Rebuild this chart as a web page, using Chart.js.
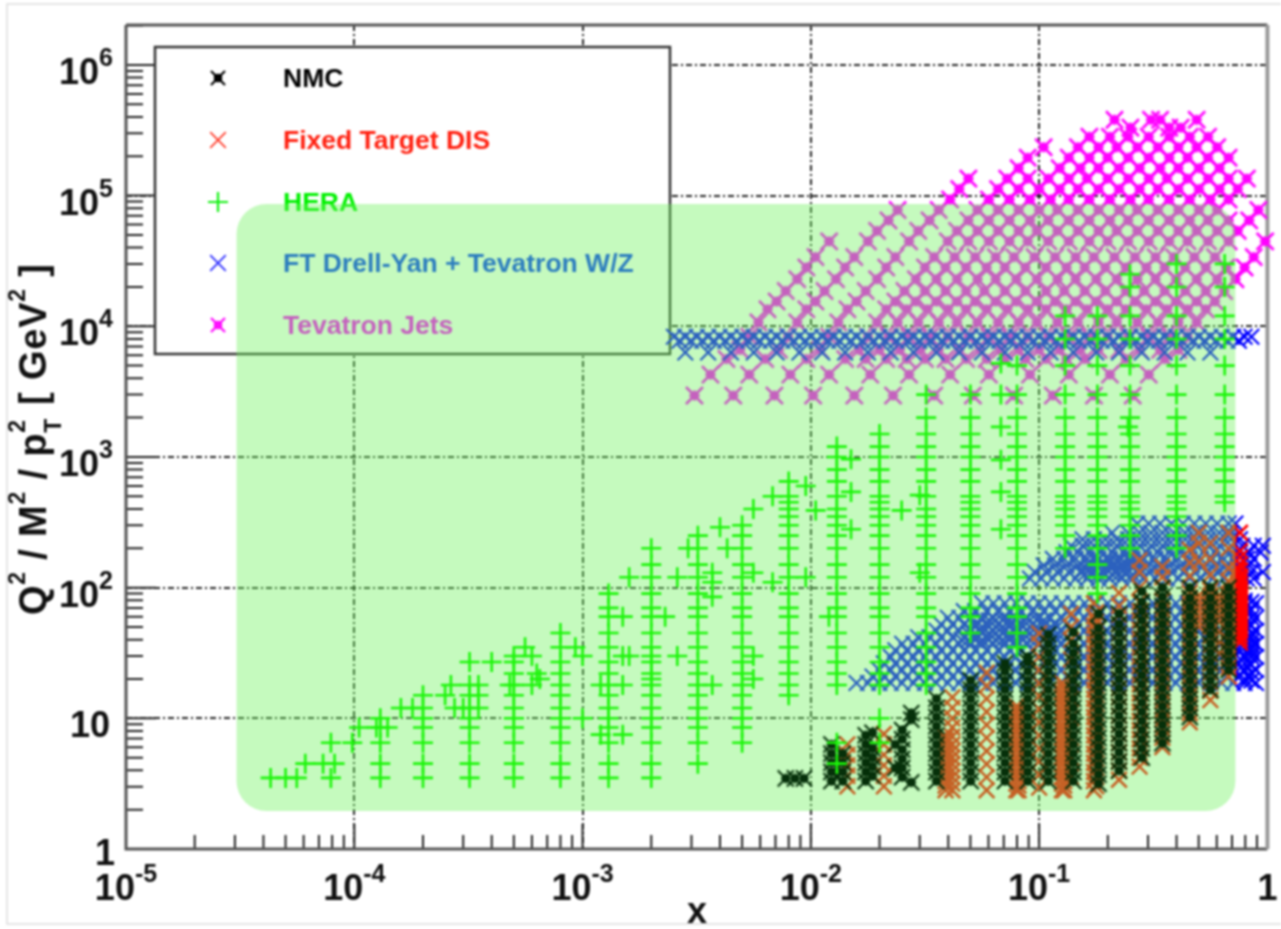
<!DOCTYPE html>
<html lang="en">
<head>
  <meta charset="UTF-8">
  <title>Kinematic coverage of NNPDF input data</title>
  <script src="https://cdn.jsdelivr.net/npm/chart.js"></script>
  <style>
    html, body { margin: 0; padding: 0; background: #fff; }
    canvas { display: block; filter: blur(1px); }
  </style>
</head>
<body>
<canvas id="chart" width="1281" height="929"></canvas>

<script>
// axis ticks
const xTickValues = [1e-5, 1e-4, 1e-3, 1e-2, 1e-1, 1];
const xTickBases = ['10', '10', '10', '10', '10', '1'];
const xTickExps = ['-5', '-4', '-3', '-2', '-1', ''];
const yTickValues = [1, 10, 100, 1e3, 1e4, 1e5, 1e6];
const yTickBases = ['1', '10', '10', '10', '10', '10', '10'];
const yTickExps = ['', '', '2', '3', '4', '5', '6'];
const minorFactors = [2, 3, 4, 5, 6, 7, 8, 9];

const seriesLabels = ['NMC', 'Fixed Target DIS', 'HERA', 'FT Drell-Yan + Tevatron W/Z', 'Tevatron Jets'];

// HERA: [x, [Q2 ...]]
const heraColumns = [
  [4.3e-5, [3.5]], [5e-5, [3.5]], [5.6e-5, [3.5]], [6.1e-5, [4.5]], [7.3e-5, [4.5]],
  [7.9e-5, [3.5, 6.5]], [8.2e-5, [4.5]], [9.8e-5, [6.5]], [1.05e-4, [8.5]], [1.25e-4, [8.5]],
  [1.3e-4, [3.5, 4.5, 6.5, 8.5, 10]], [1.4e-4, [8.5]], [1.6e-4, [12]], [1.8e-4, [12]],
  [2e-4, [3.5, 4.5, 6.5, 8.5, 10, 12, 15]], [2.5e-4, [15]], [2.65e-4, [18]], [2.75e-4, [12]], [3e-4, [12]],
  [3.2e-4, [3.5, 4.5, 6.5, 8.5, 10, 12, 15, 18, 27]], [3.5e-4, [12, 15, 18]], [4e-4, [27]],
  [4.8e-4, [18]], [5e-4, [3.5, 4.5, 6.5, 8.5, 10, 12, 15, 18, 22, 27, 30]],
  [5.6e-4, [35]], [6e-4, [18, 30]], [6.3e-4, [22]], [6.5e-4, [20]],
  [8e-4, [3.5, 4.5, 6.5, 8.5, 10, 12, 15, 18, 22, 27, 35, 45]], [9.3e-4, [35]], [1e-3, [10, 30]],
  [1.2e-3, [7.5, 18]], [1.3e-3, [3.5, 4.5, 6.5, 8.5, 10, 12, 15, 18, 22, 27, 35, 45, 60, 70, 90]],
  [1.5e-3, [7.5, 18, 30, 60]], [1.6e-3, [30, 120]],
  [2e-3, [3.5, 4.5, 6.5, 8.5, 10, 12, 15, 18, 20, 22, 27, 30, 35, 45, 60, 70, 90, 120, 150, 200]],
  [2.3e-3, [60]], [2.6e-3, [30, 120]], [2.9e-3, [200]],
  [3.2e-3, [4.5, 6.5, 8.5, 10, 12, 15, 18, 22, 27, 35, 45, 60, 70, 90, 120, 150, 200, 250]],
  [3.7e-3, [18, 85, 110, 130]], [4e-3, [290]], [4.3e-3, [200]],
  [5e-3, [6.5, 8.5, 10, 12, 15, 18, 22, 27, 35, 45, 60, 70, 90, 120, 150, 200, 250, 300]],
  [5.6e-3, [20, 30, 130, 400]], [6.8e-3, [110, 500]],
  [8e-3, [15, 18, 22, 27, 35, 45, 60, 70, 90, 120, 150, 200, 250, 300, 350, 400, 450, 500, 650]],
  [9.5e-3, [120, 600]], [1.05e-2, [390]], [1.2e-2, [60]],
  [1.3e-2, [4.5, 6.5, 18, 22, 27, 35, 45, 60, 70, 90, 120, 150, 200, 250, 300, 350, 400, 500, 650, 800, 1000, 1200]],
  [1.5e-2, [280, 540, 960]],
  [2e-2, [6.5, 10, 18, 22, 27, 35, 45, 60, 70, 90, 120, 150, 200, 250, 300, 350, 400, 450, 500, 650, 800, 1000, 1200, 1500]],
  [2.5e-2, [390]], [3e-2, [130, 510]],
  [3.2e-2, [18, 22, 27, 35, 45, 60, 70, 90, 120, 150, 200, 250, 300, 350, 400, 500, 650, 800, 1000, 1200, 1500, 2000, 3000]],
  [5e-2, [45, 60, 70, 90, 120, 150, 200, 250, 300, 350, 400, 450, 500, 650, 800, 1000, 1200, 1500, 2000, 3000]],
  [6.8e-2, [280, 540, 950, 1700, 3000, 5200]],
  [8e-2, [35, 45, 60, 70, 90, 120, 150, 200, 250, 300, 350, 400, 450, 500, 650, 800, 1000, 1200, 1500, 2000, 3000, 5000]],
  [0.13, [200, 250, 300, 350, 400, 450, 500, 650, 800, 1000, 1200, 1500, 2000, 3000, 5000, 8000, 12000]],
  [0.18, [90, 120, 150, 200, 250, 300, 350, 400, 450, 500, 650, 800, 1000, 1200, 1500, 2000, 3000, 5000, 8000, 12000]],
  [0.245, [1700]],
  [0.25, [200, 250, 300, 350, 400, 450, 500, 650, 800, 1000, 1200, 1500, 2000, 3000, 5000, 8000, 12000, 20000, 25000]],
  [0.4, [200, 250, 300, 350, 400, 450, 500, 650, 800, 1000, 1200, 1500, 2000, 3000, 5000, 8000, 12000, 20000, 30000]],
  [0.65, [450, 500, 650, 800, 1000, 1200, 1500, 2000, 3000, 5000, 8000, 12000, 20000, 30000]]
];

// NMC: [log10 x, [log10 Q2 ...]]
const nmcColumns = [
  [-2.11, [.54]], [-2.07, [.54]], [-2.03, [.54]],
  [-1.91, [.52, .59, .66, .73, .80]], [-1.86, [.52, .59, .66, .73]],
  [-1.76, [.52, .59, .66, .73, .80, .87]], [-1.73, [.56, .63, .70, .77, .89]],
  [-1.60, [.55, .62, .69, .76, .84, .91]], [-1.56, [.51, .99, 1.04]], [-1.63, [.62, .80]],
  [-1.45, [.52, .59, .66, .73, .80, .87, .94, 1.01, 1.08, 1.15]],
  [-1.30, [.52, .59, .66, .73, .80, .87, .94, 1.01, 1.08, 1.15, 1.22, 1.29]],
  [-1.15, [.52, .59, .66, .73, .80, .87, .94, 1.01, 1.08, 1.15, 1.22, 1.29, 1.36, 1.42]],
  [-1.05, [.52, .59, .66, .73, .80, .87, .94, 1.01, 1.08, 1.15, 1.22, 1.29, 1.36, 1.43, 1.47]],
  [-.96, [.52, .59, .66, .73, .80, .87, .94, 1.01, 1.08, 1.15, 1.22, 1.29, 1.36, 1.43, 1.50, 1.57, 1.64]],
  [-.85, [.52, .59, .66, .73, .80, .87, .94, 1.01, 1.08, 1.15, 1.22, 1.29, 1.36, 1.43, 1.50, 1.57, 1.66]],
  [-.74, [.50, .57, .64, .71, .78, .85, .92, .99, 1.06, 1.13, 1.20, 1.27, 1.34, 1.41, 1.48, 1.55, 1.62, 1.69, 1.80]],
  [-.65, [.60, .67, .74, .81, .88, .95, 1.02, 1.09, 1.16, 1.23, 1.30, 1.37, 1.44, 1.51, 1.58, 1.65, 1.72, 1.80]],
  [-.55, [.70, .77, .84, .91, .98, 1.05, 1.12, 1.19, 1.26, 1.33, 1.40, 1.47, 1.54, 1.61, 1.68, 1.75, 1.82, 1.89, 1.97]],
  [-.46, [.81, .88, .95, 1.02, 1.09, 1.16, 1.23, 1.30, 1.37, 1.44, 1.51, 1.58, 1.65, 1.72, 1.79, 1.86, 1.93, 2.0]],
  [-.34, [1.01, 1.08, 1.15, 1.22, 1.29, 1.36, 1.43, 1.50, 1.57, 1.64, 1.71, 1.78, 1.85, 1.92, 2.0]],
  [-.25, [1.22, 1.29, 1.36, 1.43, 1.50, 1.57, 1.64, 1.71, 1.78, 1.85, 1.92, 2.0]],
  [-.17, [1.37, 1.44, 1.51, 1.58, 1.65, 1.72, 1.79, 1.86, 1.93, 2.0]]
];

// Fixed target DIS: [log10 x, [log10 Q2 ...]]
const fixedTargetColumns = [
  [-1.84, [.48, .56, .64, .72, .80]], [-1.68, [.48, .56, .64, .72, .80, .88]],
  [-1.41, [.45, .485, .52, .555, .59, .625, .66, .695, .73, .765, .80, .835, .86]],
  [-1.38, [.45, .50, .55, .60, .65, .70, .75, .80, .86, .93, 1.0, 1.08, 1.16]],
  [-1.23, [.45, .55, .65, .75, .85, .95, 1.05, 1.15, 1.25, 1.35]],
  [-1.10, [.45, .50, .55, .60, .65, .70, .75, .80, .85, .90, .95, 1.0, 1.05, 1.09]],
  [-1.09, [.45, .485, .52, .555, .59, .625, .66, .695, .73, .765, .80, .835, .87, .905, .94, .975, 1.01, 1.045, 1.08]],
  [-1.0, [.47, .57, .67, .77, .87, .97, 1.07, 1.17, 1.27, 1.37, 1.47, 1.57, 1.65]],
  [-.90, [.45, .50, .55, .60, .65, .70, .75, .80, .85, .90, .95, 1.0, 1.05, 1.10, 1.15, 1.20, 1.27]],
  [-.89, [.45, .485, .52, .555, .59, .625, .66, .695, .73, .765, .80, .835, .87, .905, .94, .975, 1.01, 1.045, 1.08, 1.115, 1.15, 1.185, 1.22, 1.255]],
  [-.86, [.55, .70, .85, 1.0, 1.15, 1.30, 1.45, 1.60, 1.70, 1.80]],
  [-.76, [.45, .52, .59, .66, .73, .80, .87, .94, 1.01, 1.08, 1.15, 1.22, 1.29, 1.36, 1.43, 1.50, 1.57, 1.64, 1.71, 1.78, 1.88]],
  [-.75, [.48, .55, .62, .69, .76, .83, .90, .97, 1.04, 1.11, 1.18, 1.25, 1.32, 1.39, 1.46, 1.53, 1.60, 1.67, 1.74, 1.81]],
  [-.65, [.53, .60, .67, .74, .81, .88, .95, 1.02, 1.09, 1.16, 1.23, 1.30, 1.37, 1.44, 1.51, 1.58, 1.65, 1.72, 1.79, 1.86, 1.96]],
  [-.56, [.63, .70, .77, .84, .91, .98, 1.05, 1.12, 1.19, 1.26, 1.33, 1.40, 1.47, 1.54, 1.61, 1.68, 1.75, 1.82, 1.89, 2.0, 2.12, 2.21]],
  [-.46, [.78, .85, .92, .99, 1.06, 1.13, 1.20, 1.27, 1.34, 1.41, 1.48, 1.55, 1.62, 1.69, 1.76, 1.83, 1.90, 2.0, 2.08, 2.16]],
  [-.34, [.97, 1.04, 1.11, 1.18, 1.25, 1.32, 1.39, 1.46, 1.53, 1.60, 1.67, 1.74, 1.78, 1.81, 1.84, 1.88, 1.92, 1.96, 2.09, 2.19, 2.29]],
  [-.30, [1.70, 1.74, 1.78, 1.82, 1.86, 1.90, 1.94, 2.2, 2.34, 2.42]],
  [-.25, [1.14, 1.21, 1.28, 1.35, 1.42, 1.49, 1.56, 1.63, 1.70, 1.74, 1.78, 1.82, 1.86, 1.90, 1.94, 1.98, 2.1, 2.22, 2.34]],
  [-.21, [1.50, 1.58, 1.66, 1.74, 1.78, 1.82, 1.86, 1.90, 1.94]],
  [-.17, [1.32, 1.39, 1.46, 1.53, 1.60, 1.67, 1.74, 1.78, 1.81, 1.85, 1.88, 1.92, 1.95, 2.05, 2.15, 2.3, 2.42]],
  [-.12, [1.58, 1.61, 1.64, 1.67, 1.70, 1.73, 1.76, 1.79, 1.82, 1.85, 1.88, 1.91, 1.94, 1.97, 2.0, 2.03, 2.06, 2.09, 2.13, 2.18, 2.23, 2.28, 2.42]],
  [-.13, [1.60, 1.66, 1.72, 1.78, 1.84, 1.90, 1.96, 2.02, 2.08, 2.14]]
];

// Drell-Yan and W/Z: [log10 Q2, [log10 x ...]]
const drellYanRows = [
  [3.92, [-2.60, -2.55, -2.50, -2.45, -2.40, -2.35, -2.30, -2.25, -2.20, -2.15, -2.10, -2.05, -2.0, -1.95, -1.90, -1.85, -1.80, -1.75, -1.70, -1.65, -1.60, -1.55, -1.50, -1.45, -1.40, -1.35, -1.30, -1.25, -1.20, -1.15, -1.10, -1.05, -1.0, -.95, -.90, -.85, -.80, -.75, -.70, -.65, -.60, -.55, -.50, -.45, -.40, -.35, -.30, -.25, -.20, -.15, -.10, -.07]],
  [3.89, [-2.575, -2.525, -2.475, -2.425, -2.375, -2.325, -2.275, -2.225, -2.175, -2.125, -2.075, -2.025, -1.975, -1.925, -1.875, -1.825, -1.775, -1.725, -1.675, -1.625, -1.575, -1.525, -1.475, -1.425, -1.375, -1.325, -1.275, -1.225, -1.175, -1.125, -1.075, -1.025, -.975, -.925, -.875, -.825, -.775, -.725, -.675, -.625, -.575, -.525, -.475, -.425, -.375, -.325, -.275, -.225, -.175, -.125]],
  [3.80, [-2.55, -2.45, -2.35, -2.25, -2.15, -2.05, -1.95, -1.85, -1.75, -1.65, -1.55, -1.45, -1.35, -1.25, -1.15, -1.05, -.95, -.85, -.75, -.65, -.55, -.45, -.35, -.25]],
  [1.27, [-1.80, -1.75, -1.70, -1.65, -1.60, -1.55, -1.50, -1.45, -1.40, -1.35, -1.30, -1.25, -1.20, -1.15, -1.10, -1.05, -1.0, -.95, -.90, -.85, -.80, -.75, -.70, -.65, -.60, -.55, -.50, -.45, -.40, -.35, -.30, -.25, -.20, -.15, -.10, -.05]],
  [1.32, [-1.73, -1.68, -1.63, -1.58, -1.53, -1.48, -1.43, -1.38, -1.33, -1.28, -1.23, -1.18, -1.13, -1.08, -1.03, -.98, -.93, -.88, -.83, -.78, -.73, -.68, -.63, -.58, -.53, -.48, -.43, -.38, -.33, -.28, -.23, -.18, -.13, -.08]],
  [1.37, [-1.70, -1.65, -1.60, -1.55, -1.50, -1.45, -1.40, -1.35, -1.30, -1.25, -1.20, -1.15, -1.10, -1.05, -1.0, -.95, -.90, -.85, -.80, -.75, -.70, -.65, -.60, -.55, -.50, -.45, -.40, -.35, -.30, -.25, -.20, -.15, -.10, -.05]],
  [1.42, [-1.68, -1.63, -1.58, -1.53, -1.48, -1.43, -1.38, -1.33, -1.28, -1.23, -1.18, -1.13, -1.08, -1.03, -.98, -.93, -.88, -.83, -.78, -.73, -.68, -.63, -.58, -.53, -.48, -.43, -.38, -.33, -.28, -.23, -.18, -.13, -.08]],
  [1.47, [-1.65, -1.60, -1.55, -1.50, -1.45, -1.40, -1.35, -1.30, -1.25, -1.20, -1.15, -1.10, -1.05, -1.0, -.95, -.90, -.85, -.80, -.75, -.70, -.65, -.60, -.55, -.50, -.45, -.40, -.35, -.30, -.25, -.20, -.15, -.10, -.05]],
  [1.52, [-1.63, -1.58, -1.53, -1.48, -1.43, -1.38, -1.33, -1.28, -1.23, -1.18, -1.13, -1.08, -1.03, -.98, -.93, -.88, -.83, -.78, -.73, -.68, -.63, -.58, -.53, -.48, -.43, -.38, -.33, -.28, -.23, -.18, -.13, -.08]],
  [1.57, [-1.60, -1.55, -1.50, -1.45, -1.40, -1.35, -1.30, -1.25, -1.20, -1.15, -1.10, -1.05, -1.0, -.95, -.90, -.85, -.80, -.75, -.70, -.65, -.60, -.55, -.50, -.45, -.40, -.35, -.30, -.25, -.20, -.15, -.10, -.05]],
  [1.60, [-1.34, -1.31, -1.28, -1.25, -1.22, -1.19, -1.16, -1.13, -1.10, -1.07, -1.04, -1.01, -.98, -.95, -.92]],
  [1.62, [-1.53, -1.48, -1.43, -1.38, -1.33, -1.28, -1.23, -1.18, -1.13, -1.08, -1.03, -.98, -.93, -.88, -.83, -.78, -.73, -.68, -.63, -.58, -.53, -.48, -.43, -.38, -.33, -.28, -.23, -.18, -.13, -.08]],
  [1.65, [-1.31, -1.28, -1.25, -1.22, -1.19, -1.16, -1.13, -1.10, -1.07, -1.04, -1.01, -.98, -.95, -.92, -.89]],
  [1.67, [-1.45, -1.40, -1.35, -1.30, -1.25, -1.20, -1.15, -1.10, -1.05, -1.0, -.95, -.90, -.85, -.80, -.75, -.70, -.65, -.60, -.55, -.50, -.45, -.40, -.35, -.30, -.25, -.20, -.15, -.10, -.05]],
  [1.70, [-1.28, -1.25, -1.22, -1.19, -1.16, -1.13, -1.10, -1.07, -1.04, -1.01, -.98, -.95, -.92]],
  [1.72, [-1.43, -1.38, -1.33, -1.28, -1.23, -1.18, -1.13, -1.08, -1.03, -.98, -.93, -.88, -.83, -.78, -.73, -.68, -.63, -.58, -.53, -.48, -.43, -.38, -.33, -.28, -.23, -.18, -.13, -.08]],
  [1.75, [-1.25, -1.22, -1.19, -1.16, -1.13, -1.10, -1.07, -1.04, -1.01, -.98]],
  [1.77, [-1.40, -1.35, -1.30, -1.25, -1.20, -1.15, -1.10, -1.05, -1.0, -.95, -.90, -.85, -.80, -.75, -.70, -.65, -.60, -.55, -.50, -.45, -.40, -.35, -.30, -.25, -.20, -.15, -.10, -.05]],
  [1.82, [-1.33, -1.28, -1.23, -1.18, -1.13, -1.08, -1.03, -.98, -.93, -.88, -.83, -.78, -.73, -.68, -.63, -.58, -.53, -.48, -.43, -.38, -.33, -.28, -.23, -.18, -.13, -.08]],
  [1.88, [-1.25, -1.20, -1.15, -1.10, -1.05, -1.0, -.95, -.90, -.85, -.80, -.75, -.70, -.65, -.60, -.55, -.50, -.45, -.40, -.35, -.30, -.25, -.20, -.15, -.10, -.05]],
  [2.07, [-1.04, -.99, -.94, -.89, -.84, -.79, -.74, -.69, -.64, -.59, -.54, -.49, -.44, -.39, -.34, -.29, -.24, -.19, -.14, -.09, -.06]],
  [2.10, [-.80, -.77, -.74, -.71, -.68, -.65, -.62, -.59, -.56]],
  [2.12, [-1.02, -.97, -.92, -.87, -.82, -.77, -.72, -.67, -.62, -.57, -.52, -.47, -.42, -.37, -.32, -.27, -.22, -.17, -.12, -.07, -.02]],
  [2.15, [-.80, -.77, -.74, -.71, -.68, -.65, -.62, -.59, -.56]],
  [2.17, [-.98, -.93, -.88, -.83, -.78, -.73, -.68, -.63, -.58, -.53, -.48, -.43, -.38, -.33, -.28, -.23, -.18, -.13, -.08]],
  [2.20, [-.78, -.75, -.72, -.69, -.66, -.63, -.60, -.57]],
  [2.22, [-.94, -.89, -.84, -.79, -.74, -.69, -.64, -.59, -.54, -.49, -.44, -.39, -.34, -.29, -.24, -.19, -.14, -.09, -.06]],
  [2.27, [-.88, -.83, -.78, -.73, -.68, -.63, -.58, -.53, -.48, -.43, -.38, -.33, -.28, -.23, -.18, -.13, -.08, -.03]],
  [2.32, [-.86, -.81, -.76, -.71, -.66, -.61, -.56, -.51, -.46, -.41, -.36, -.31, -.26, -.21, -.16, -.11, -.06, -.02]],
  [2.37, [-.81, -.76, -.71, -.66, -.61, -.56, -.51, -.46, -.41, -.36, -.31, -.26, -.21, -.16, -.12]],
  [2.42, [-.68, -.61, -.56, -.51, -.46, -.41, -.36, -.31, -.26, -.21, -.16]],
  [2.49, [-.57, -.52, -.47, -.42, -.37, -.32, -.27, -.22, -.17, -.14]]
];

// right hand edge of the Drell-Yan block
const drellYanEdge = [
  [-.10, [1.30, 1.36, 1.42, 1.48, 1.54, 1.60, 1.66, 1.72, 1.78, 1.84, 1.90]],
  [-.07, [1.29, 1.35, 1.41, 1.47, 1.50, 1.53, 1.56, 1.59, 1.62, 1.65, 1.71, 1.77, 1.83, 1.89]]
];

// Tevatron jets: [log10 pT2, [log10 x ...]]
const jetRows = [
  [3.47, [-2.51, -2.34, -2.16, -1.99, -1.81, -1.64, -1.46, -1.29, -1.11, -.94, -.76, -.59]],
  [3.63, [-2.44, -2.27, -2.09, -1.92, -1.74, -1.57, -1.39, -1.22, -1.04, -.87, -.69, -.52]],
  [3.75, [-2.37, -2.20, -2.02, -1.85, -1.76, -1.67, -1.58, -1.50, -1.41, -1.32, -1.23, -1.15, -1.06, -.97, -.88, -.80, -.62, -.45]],
  [3.82, [-2.31, -2.14, -1.96, -1.79, -1.70, -1.61, -1.52, -1.44, -1.35, -1.26, -1.17, -1.09, -1.0, -.91, -.82, -.74, -.65, -.56, -.47, -.39]],
  [3.92, [-2.27, -2.10, -1.92, -1.75, -1.66, -1.57, -1.48, -1.40, -1.31, -1.22, -1.13, -1.05, -.96, -.87, -.78, -.70, -.61, -.52, -.43, -.35]],
  [4.03, [-2.23, -2.06, -1.88, -1.71, -1.62, -1.53, -1.44, -1.36, -1.27, -1.18, -1.09, -1.01, -.92, -.83, -.74, -.66, -.57, -.48, -.39, -.31]],
  [4.13, [-2.19, -2.02, -1.84, -1.67, -1.58, -1.49, -1.40, -1.32, -1.23, -1.14, -1.05, -.97, -.88, -.79, -.70, -.62, -.53, -.44, -.35, -.27]],
  [4.19, [-2.15, -1.98, -1.80, -1.63, -1.54, -1.45, -1.36, -1.28, -1.19, -1.10, -1.01, -.93, -.84, -.75, -.66, -.58, -.49, -.40, -.31, -.23]],
  [4.27, [-2.11, -1.94, -1.76, -1.59, -1.50, -1.41, -1.32, -1.24, -1.15, -1.06, -.97, -.89, -.80, -.71, -.62, -.54, -.45, -.36, -.27, -.19]],
  [4.36, [-2.06, -1.89, -1.71, -1.54, -1.45, -1.36, -1.27, -1.19, -1.10, -1.01, -.92, -.84, -.75, -.66, -.57, -.49, -.40, -.31, -.22, -.14]],
  [4.45, [-2.02, -1.85, -1.67, -1.50, -1.41, -1.32, -1.23, -1.15, -1.06, -.97, -.88, -.80, -.71, -.62, -.53, -.45, -.36, -.27, -.18, -.10]],
  [4.53, [-1.98, -1.81, -1.63, -1.46, -1.37, -1.28, -1.19, -1.11, -1.02, -.93, -.84, -.76, -.67, -.58, -.49, -.41, -.32, -.23, -.06]],
  [4.65, [-1.92, -1.75, -1.57, -1.40, -1.31, -1.22, -1.13, -1.05, -.96, -.87, -.78, -.70, -.61, -.52, -.43, -.35, -.26, -.17, -.01]],
  [4.73, [-1.71, -1.53, -1.36, -1.27, -1.18, -1.09, -1.01, -.92, -.83, -.74, -.66, -.57, -.48, -.39, -.31, -.22, -.13]],
  [4.81, [-1.66, -1.48, -1.31, -1.22, -1.13, -1.04, -.96, -.87, -.78, -.69, -.61, -.52, -.43, -.34, -.26, -.17, -.08]],
  [4.89, [-1.62, -1.44, -1.27, -1.18, -1.09, -1.0, -.92, -.83, -.74, -.65, -.57, -.48, -.39, -.30, -.22, -.04]],
  [4.97, [-1.39, -1.22, -1.13, -1.04, -.95, -.87, -.78, -.69, -.60, -.52, -.43, -.34, -.25, -.17]],
  [5.05, [-1.35, -1.18, -1.09, -1.0, -.91, -.83, -.74, -.65, -.56, -.48, -.39, -.30, -.21, -.13]],
  [5.13, [-1.31, -1.14, -1.05, -.96, -.87, -.79, -.70, -.61, -.52, -.44, -.35, -.26, -.17, -.09]],
  [5.21, [-1.09, -.91, -.82, -.74, -.65, -.56, -.47, -.39, -.30, -.21]],
  [5.29, [-1.05, -.87, -.78, -.70, -.61, -.52, -.43, -.35, -.26, -.17]],
  [5.37, [-.98, -.83, -.74, -.66, -.57, -.48, -.39, -.31, -.22]],
  [5.45, [-.78, -.69, -.61, -.52, -.43, -.34, -.26]],
  [5.52, [-.60, -.43, -.38]],
  [5.58, [-.67, -.51, -.47, -.31]]
];

// green box over the plot, in axis units
const boxXMin = 3.05e-5;
const boxXMax = 0.724;
const boxYMin = 1.95;
const boxYMax = 86100;

const fromColumns = cols => cols.flatMap(([lx, ys]) => ys.map(ly => ({ x: 10 ** lx, y: 10 ** ly })));
const fromRows = rows => rows.flatMap(([ly, xs]) => xs.map(lx => ({ x: 10 ** lx, y: 10 ** ly })));
const heraPoints = heraColumns.flatMap(([x, qs]) => qs.map(q => ({ x, y: q })));

const FONT = '"Liberation Sans", Arial, sans-serif';

// X with a thick middle, as the plot's star marker looks
function makeStarMark(color, size, lineWidth, core) {
  const c = document.createElement('canvas');
  c.width = c.height = size + 6;
  const g = c.getContext('2d');
  const m = c.width / 2, r = size / 2;
  g.strokeStyle = color;
  g.fillStyle = color;
  g.lineWidth = lineWidth;
  g.beginPath();
  g.moveTo(m - r, m - r); g.lineTo(m + r, m + r);
  g.moveTo(m + r, m - r); g.lineTo(m - r, m + r);
  g.moveTo(m - r * 0.6, m); g.lineTo(m + r * 0.6, m);
  g.moveTo(m, m - r * 0.6); g.lineTo(m, m + r * 0.6);
  g.stroke();
  g.fillRect(m - core / 2, m - core / 2, core, core);
  return c;
}

const jetMark = makeStarMark('#ff00ff', 17, 2.6, 8);
const nmcMark = makeStarMark('#06300a', 16, 2.2, 8);
const jetLegendMark = makeStarMark('#ff10ff', 14, 2.4, 8);
const nmcLegendMark = makeStarMark('#000', 14, 2.2, 8);

function makeSet(label, data, style, radius, color, width) {
  return { label, data, showLine: false, clip: false, pointStyle: style, pointRadius: radius,
    pointBorderWidth: width, pointBorderColor: color, pointBackgroundColor: 'transparent' };
}

// dataset 0 is painted last
const datasets = [
  makeSet(seriesLabels[2], heraPoints, 'cross', 10, '#1cf50a', 2.6),
  makeSet(seriesLabels[0], fromColumns(nmcColumns), nmcMark, 8, '#06300a', 2.2),
  makeSet(seriesLabels[1], fromColumns(fixedTargetColumns), 'crossRot', 11, '#ff0000', 2.6),
  makeSet(seriesLabels[3], fromRows(drellYanRows).concat(fromColumns(drellYanEdge)), 'crossRot', 11, '#0000ff', 2.2),
  makeSet(seriesLabels[4], fromRows(jetRows), jetMark, 10, '#ff00ff', 2.6)
];

const legendIcons = [
  { style: nmcLegendMark, radius: 8, color: '#000', width: 2.2, text: '#000' },
  { style: 'crossRot', radius: 11, color: '#ff4030', width: 1.8, text: '#ff2010' },
  { style: 'cross', radius: 10, color: '#10f010', width: 2.2, text: '#00f000' },
  { style: 'crossRot', radius: 11, color: '#3030ff', width: 1.8, text: '#0030ff' },
  { style: jetLegendMark, radius: 9, color: '#ff10ff', width: 2.4, text: '#ff00ff' }
];

function drawSupLabel(ctx, base, exp, x, y, mode) {
  ctx.fillStyle = '#111';
  ctx.textBaseline = 'alphabetic';
  ctx.textAlign = 'left';
  ctx.font = 'bold 36px ' + FONT;
  const baseW = ctx.measureText(base).width;
  ctx.font = 'bold 25px ' + FONT;
  const expW = exp ? ctx.measureText(exp).width : 0;
  const left = mode === 'center' ? x - (baseW + expW) / 2 : x - baseW - expW;
  ctx.font = 'bold 36px ' + FONT;
  ctx.fillText(base, left, y);
  if (exp) {
    ctx.font = 'bold 25px ' + FONT;
    ctx.fillText(exp, left + baseW, y - 18);
  }
}

function drawYTitle(ctx) {
  const parts = [
    ['Q', 0], ['2', 1], [' / M', 0], ['2', 1], [' / p', 0], ['2T', 2], [' [ GeV', 0], ['2', 1], [' ]', 0]
  ];
  ctx.save();
  ctx.translate(46, 615);
  ctx.rotate(-Math.PI / 2);
  ctx.fillStyle = '#111';
  ctx.textAlign = 'left';
  ctx.textBaseline = 'alphabetic';
  ctx.letterSpacing = '0.8px';
  let pen = 0;
  parts.forEach(([t, kind]) => {
    if (kind === 0) {
      ctx.font = 'bold 38px ' + FONT;
      ctx.fillText(t, pen, 0);
      pen += ctx.measureText(t).width;
    } else if (kind === 1) {
      ctx.font = 'bold 23px ' + FONT;
      ctx.fillText(t, pen, -21);
      pen += ctx.measureText(t).width;
    } else {
      ctx.font = 'bold 23px ' + FONT;
      ctx.fillText(t[0], pen, -21);
      ctx.fillText(t[1], pen, 15);
      pen += ctx.measureText(t[0]).width + 3;
    }
  });
  ctx.restore();
}

const framePlugin = {
  id: 'frame',
  beforeDraw(chart) {
    const ctx = chart.ctx;
    ctx.save();
    ctx.fillStyle = '#fff';
    ctx.fillRect(0, 0, chart.width, chart.height);
    ctx.strokeStyle = '#ddd';
    ctx.lineWidth = 1.5;
    ctx.beginPath();
    ctx.moveTo(1281, 4); ctx.lineTo(7, 4); ctx.lineTo(7, 924); ctx.lineTo(1281, 924);
    ctx.stroke();
    ctx.restore();
  },
  beforeDatasetsDraw(chart) {
    const ctx = chart.ctx;
    const { left, right, top, bottom } = chart.chartArea;
    const xs = chart.scales.x, ys = chart.scales.y;
    ctx.save();
    // ticks on the two labelled sides, pointing inwards
    ctx.strokeStyle = '#222';
    ctx.lineWidth = 2;
    ctx.beginPath();
    xTickValues.forEach(v => {
      const px = xs.getPixelForValue(v);
      ctx.moveTo(px, bottom); ctx.lineTo(px, bottom - 25);
      if (v < 1) minorFactors.forEach(f => {
        const m = xs.getPixelForValue(v * f);
        ctx.moveTo(m, bottom); ctx.lineTo(m, bottom - 14);
      });
    });
    yTickValues.forEach(v => {
      const py = ys.getPixelForValue(v);
      ctx.moveTo(left, py); ctx.lineTo(left + 30, py);
      minorFactors.forEach(f => {
        if (v * f > ys.max) return;
        const m = ys.getPixelForValue(v * f);
        ctx.moveTo(left, m); ctx.lineTo(left + 17, m);
      });
    });
    ctx.stroke();

    // frame
    ctx.lineWidth = 3;
    ctx.strokeStyle = '#555';
    ctx.beginPath(); ctx.moveTo(left, top); ctx.lineTo(right, top); ctx.stroke();
    ctx.beginPath(); ctx.moveTo(left, top); ctx.lineTo(left, bottom); ctx.lineTo(right, bottom); ctx.stroke();
    ctx.lineWidth = 4;
    ctx.strokeStyle = '#999';
    ctx.beginPath(); ctx.moveTo(right, top); ctx.lineTo(right, bottom); ctx.stroke();

    // tick labels and titles
    xTickValues.forEach((v, i) => drawSupLabel(ctx, xTickBases[i], xTickExps[i], xs.getPixelForValue(v), 900, 'center'));
    yTickValues.forEach((v, i) => {
      const rightEdge = yTickExps[i] ? 113 : (i === 0 ? 115 : 110);
      drawSupLabel(ctx, yTickBases[i], yTickExps[i], rightEdge, i === 0 ? 865 : ys.getPixelForValue(v) + 19, 'right');
    });
    ctx.fillStyle = '#111';
    ctx.font = 'bold 36px ' + FONT;
    ctx.textAlign = 'center';
    ctx.fillText('x', 697, 923);
    drawYTitle(ctx);

    // legend box, the green box goes over it later
    ctx.fillStyle = '#fff';
    ctx.fillRect(155, 47, 515, 307);
    ctx.strokeStyle = '#333';
    ctx.lineWidth = 2.5;
    ctx.strokeRect(155, 47, 515, 307);
    const rowY = [78, 140, 202, 263, 325];
    legendIcons.forEach((ic, i) => {
      ctx.strokeStyle = ic.color;
      ctx.fillStyle = ic.color;
      ctx.lineWidth = ic.width;
      Chart.helpers.drawPoint(ctx, { pointStyle: ic.style, radius: ic.radius, rotation: 0, borderWidth: ic.width }, 218, rowY[i]);
      ctx.fillStyle = ic.text;
      ctx.font = 'bold 26.5px ' + FONT;
      ctx.textAlign = 'left';
      ctx.textBaseline = 'middle';
      ctx.fillText(seriesLabels[i], 283, rowY[i] + 2);
    });
    ctx.restore();
  },
  // HERA and NMC sit on top of the green box
  beforeDatasetDraw(chart, args) {
    if (args.index !== 1) return;
    const ctx = chart.ctx;
    const xs = chart.scales.x, ys = chart.scales.y;
    const x0 = xs.getPixelForValue(boxXMin), x1 = xs.getPixelForValue(boxXMax);
    const y0 = ys.getPixelForValue(boxYMax), y1 = ys.getPixelForValue(boxYMin);
    ctx.save();
    ctx.fillStyle = 'rgba(110,243,93,0.4)';
    ctx.beginPath();
    ctx.roundRect(x0, y0, x1 - x0, y1 - y0, 30);
    ctx.fill();
    ctx.restore();
  }
};

const gridStyle = { color: 'rgba(0,0,0,0.85)', lineWidth: 2, drawTicks: false, tickLength: 0 };
const axisBorder = { display: false, dash: [6, 3, 2, 3] };

new Chart(document.getElementById('chart').getContext('2d'), {
  type: 'scatter',
  data: { datasets },
  options: {
    responsive: false,
    animation: false,
    layout: { padding: { left: 126, right: 11, top: 25, bottom: 80 } },
    plugins: { legend: { display: false }, tooltip: { enabled: false } },
    scales: {
      x: {
        type: 'logarithmic', min: 1e-5, max: 1,
        afterBuildTicks: s => { s.ticks = xTickValues.map(value => ({ value })); },
        ticks: { display: false, autoSkip: false },
        grid: gridStyle, border: axisBorder
      },
      y: {
        type: 'logarithmic', min: 1, max: 2.02e6,
        afterBuildTicks: s => { s.ticks = yTickValues.map(value => ({ value })); },
        ticks: { display: false, autoSkip: false },
        grid: gridStyle, border: axisBorder
      }
    }
  },
  plugins: [framePlugin]
});
</script>
</body>
</html>
